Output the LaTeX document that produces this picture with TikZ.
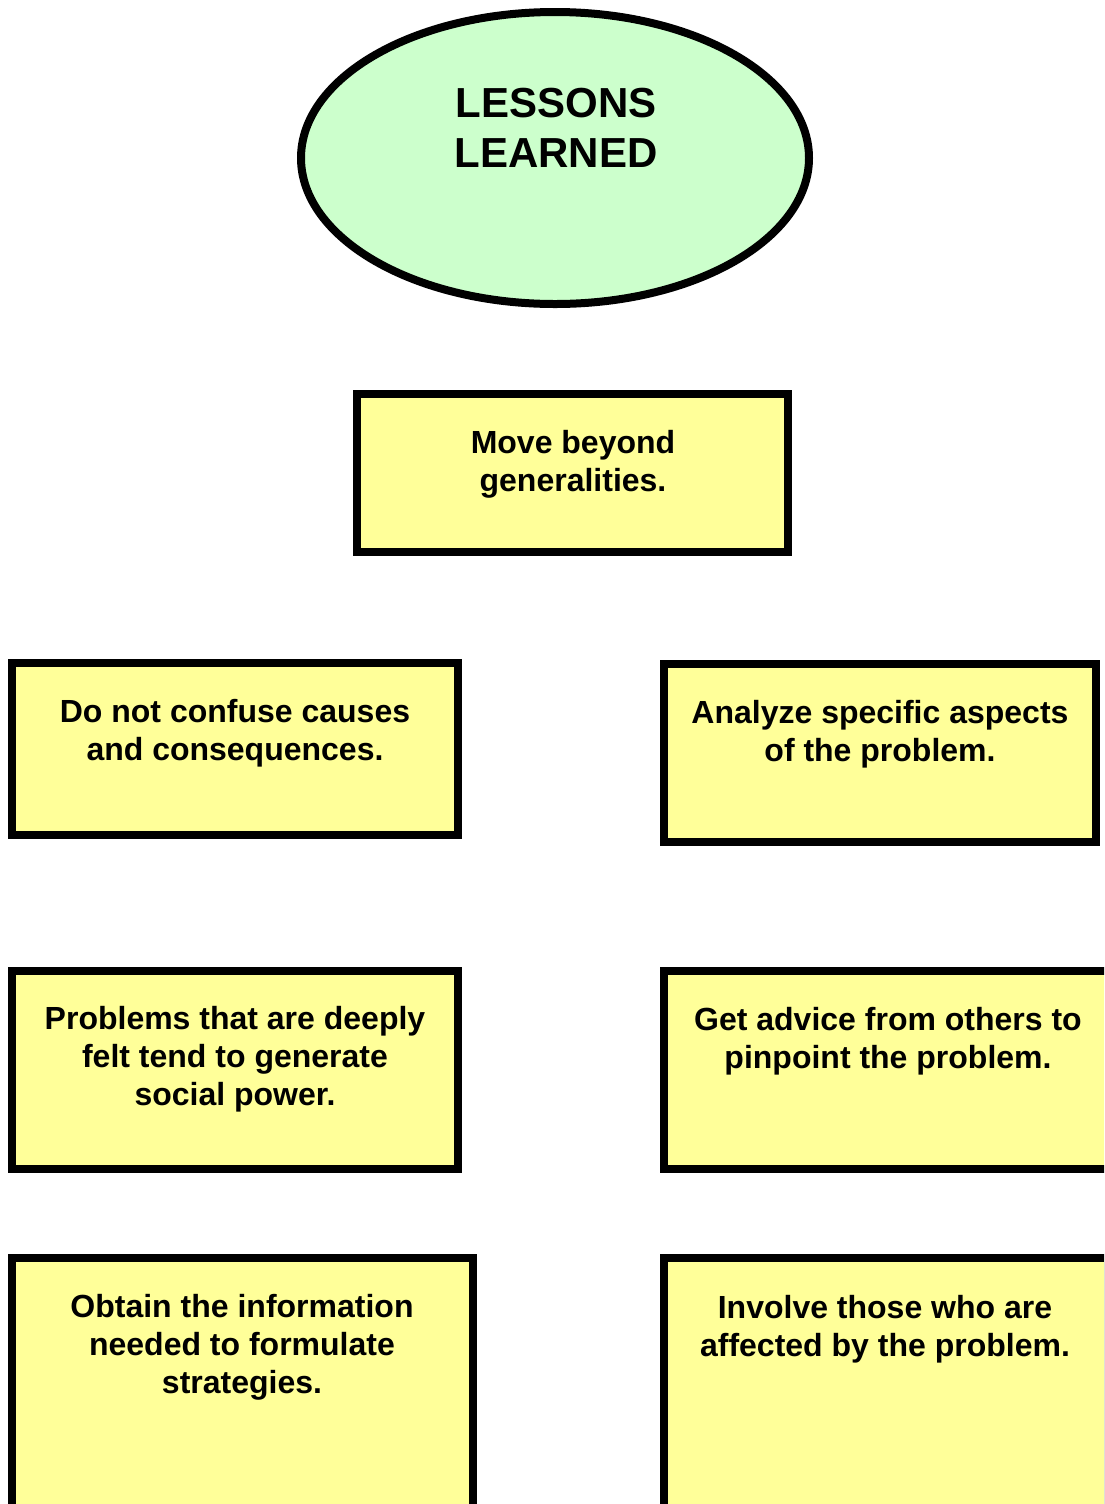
\documentclass[tikz,border=0pt]{standalone}
\usepackage{fontspec}
\setmainfont{Liberation Sans}
\usetikzlibrary{shapes.geometric,fit}

\definecolor{titlegreen}{HTML}{CCFFCC}
\definecolor{notefill}{HTML}{FFFF99}

\tikzset{
  titleshape/.style={ellipse, draw=black, line width=6pt, fill=titlegreen,
    inner sep=0pt, minimum width=381pt, minimum height=219pt},
  notebox/.style={rectangle, draw=black, line width=6pt, fill=notefill, inner sep=0pt},
  % labels are placed by the baseline of their last line
  titletext/.style={align=center, inner sep=0pt, anchor=base,
    font=\fontsize{31.5pt}{37.5pt}\selectfont\bfseries},
  notetext/.style={align=center, inner sep=0pt, anchor=base,
    font=\fontsize{24pt}{28.5pt}\selectfont\bfseries}
}

\begin{document}
\begin{tikzpicture}[x=0.75pt,y=-0.75pt]
  \useasboundingbox (0,0) rectangle (1104,1504);
  \clip (0,0) rectangle (1104,1504);

  % heading
  \node[titleshape] (title) at (555,158) {};
  \node[titletext] (titlelbl) at (556,167) {LESSONS\\LEARNED};

  % lesson boxes
  \node[notebox, fit={(357,394) (788,552)}] (move) {};
  \node[notebox, fit={(12,663) (458,835)}] (causes) {};
  \node[notebox, fit={(664,664) (1096,842)}] (aspects) {};
  \node[notebox, fit={(12,971) (458,1169)}] (power) {};
  \node[notebox, fit={(664,971) (1112,1169)}] (advice) {};
  \node[notebox, fit={(12,1258) (473,1540)}] (info) {};
  \node[notebox, fit={(664,1258) (1108,1540)}] (involve) {};

  % lesson texts
  \node[notetext] (movelbl) at (573,491) {Move beyond\\generalities.};
  \node[notetext] (causeslbl) at (235,760) {Do not confuse causes\\and consequences.};
  \node[notetext] (aspectslbl) at (880,761) {Analyze specific aspects\\of the problem.};
  \node[notetext] (powerlbl) at (235,1105) {Problems that are deeply\\felt tend to generate\\social power.};
  \node[notetext] (advicelbl) at (888,1068) {Get advice from others to\\pinpoint the problem.};
  \node[notetext] (infolbl) at (242,1393) {Obtain the information\\needed to formulate\\strategies.};
  \node[notetext] (involvelbl) at (885,1356) {Involve those who are\\affected by the problem.};
\end{tikzpicture}
\end{document}
